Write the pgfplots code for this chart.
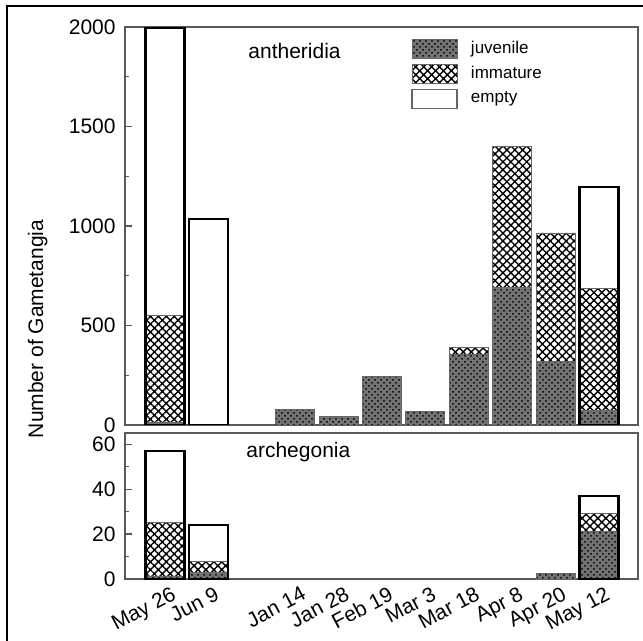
\documentclass[border=0pt]{standalone}
\usepackage{fontspec}
\setmainfont{Liberation Sans}
\usepackage{pgfplots}
\pgfplotsset{compat=1.18}
\usetikzlibrary{patterns,patterns.meta}

\pgfplotsset{
  juv/.style={fill=black!55, postaction={pattern=crosshatch dots, pattern color=black}, draw=black!60, line width=0.45pt},
  imm/.style={fill=white, postaction={pattern={Hatch[angle=45,distance=2.8pt,line width=0.7pt]}, pattern color=black}, draw=black!60, line width=0.45pt},
  emp/.style={fill=none, draw=black, line width=1.25pt},
  empleg/.style={fill=white, draw=black!60, line width=0.6pt},
  boxleg/.style={legend image code/.code={%
      \pgfpathrectangle{\pgfpoint{0pt}{-6.25pt}}{\pgfpoint{29.5pt}{12.5pt}}\pgfusepath{}%
      \draw[##1] (0pt,-4.75pt) rectangle (22.5pt,4.75pt);}},
  bars/.style={ybar, bar shift=0pt, bar width=0.9, forget plot},
  panel/.style={
    scale only axis, width=256.5pt, xmin=-0.92, xmax=10.9,
    axis line style={draw=black!65, line width=0.7pt},
    tick style={draw=black!65, line width=0.6pt},
    tick align=inside, major tick length=3.5pt, minor tick length=1.8pt,
    ytick pos=left, xtick pos=bottom,
    /pgf/number format/assume math mode=true,
    /pgf/number format/1000 sep={},
    yticklabel style={xshift=-1pt},
  },
}

\begin{document}
\fontsize{10.5pt}{12.6pt}\selectfont
\begin{tikzpicture}[x=1pt,y=1pt]
\useasboundingbox (0,0) rectangle (321.5,-320.5);
\draw[line width=1.3pt] (3.5,-340) -- (3.5,-3) -- (340,-3);

% ---------- antheridia ----------
\begin{axis}[panel, at={(62.5pt,-212.5pt)}, anchor=south west, height=199pt,
  ymin=0, ymax=2000, ytick={0,500,1000,1500,2000}, minor ytick={250,750,1250,1750},
  xtick=\empty,
  legend style={at={(rel axis cs:0.5575,0.977)}, anchor=north west, draw=none, fill=none,
    inner sep=0pt, font=\fontsize{8.5pt}{10pt}\selectfont, row sep=0pt,
    nodes={inner sep=0pt}},
  legend cell align=left]
\addlegendimage{boxleg, juv}
\addlegendentry{juvenile}
\addlegendimage{boxleg, imm}
\addlegendentry{immature}
\addlegendimage{boxleg, empleg}
\addlegendentry{empty}
% immature (cumulative: juvenile + immature)
\addplot[bars, imm] coordinates {(0,548) (7,390) (8,1400) (9,965) (10,685)};
% juvenile
\addplot[bars, juv] coordinates {(0,15) (3,78) (4,45) (5,245) (6,68) (7,355) (8,690) (9,320) (10,75)};
% empty (total height, outline)
\addplot[bars, emp] coordinates {(0,1995) (1,1035) (10,1195)};
\end{axis}

% ---------- archegonia ----------
\begin{axis}[panel, at={(62.5pt,-289.5pt)}, anchor=south west, height=73pt,
  ymin=0, ymax=65, ytick={0,20,40,60}, minor ytick={10,30,50},
  xtick={0,1,3,4,5,6,7,8,9,10},
  xticklabels={May 26, Jun 9, Jan 14, Jan 28, Feb 19, Mar 3, Mar 18, Apr 8, Apr 20, May 12},
  x tick label style={rotate=28, anchor=north east, inner sep=1pt, yshift=-3pt, xshift=2pt},
  xtick style={draw=none}]
\addplot[bars, imm] coordinates {(0,25) (1,8) (10,29)};
\addplot[bars, juv] coordinates {(0,1) (1,3) (9,2.5) (10,21)};
\addplot[bars, emp] coordinates {(0,57) (1,24) (10,37)};
\end{axis}

\node[anchor=base west] at (120.5pt,-29.5pt) {antheridia};
\node[anchor=base west] at (119.5pt,-229pt) {archegonia};
\node[rotate=90, anchor=base] at (21.5pt,-164.5pt) {Number of Gametangia};
\end{tikzpicture}
\end{document}
